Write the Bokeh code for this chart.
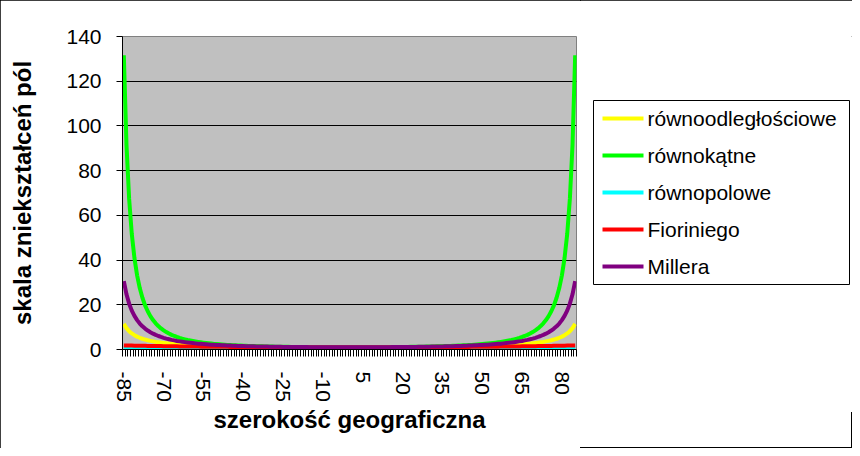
from bokeh.plotting import figure
from bokeh.models import Range1d, FixedTicker
from bokeh.layouts import row
from bokeh.core.properties import value
from bokeh.embed import file_html
from bokeh.resources import INLINE

# ---- data (latitude categories, -85 .. 85 step 1) ----
latitude = [
    -85, -84, -83, -82, -81, -80, -79, -78, -77, -76,
    -75, -74, -73, -72, -71, -70, -69, -68, -67, -66,
    -65, -64, -63, -62, -61, -60, -59, -58, -57, -56,
    -55, -54, -53, -52, -51, -50, -49, -48, -47, -46,
    -45, -44, -43, -42, -41, -40, -39, -38, -37, -36,
    -35, -34, -33, -32, -31, -30, -29, -28, -27, -26,
    -25, -24, -23, -22, -21, -20, -19, -18, -17, -16,
    -15, -14, -13, -12, -11, -10, -9, -8, -7, -6,
    -5, -4, -3, -2, -1,
    0,
    1, 2, 3, 4, 5,
    6, 7, 8, 9, 10, 11, 12, 13, 14, 15,
    16, 17, 18, 19, 20, 21, 22, 23, 24, 25,
    26, 27, 28, 29, 30, 31, 32, 33, 34, 35,
    36, 37, 38, 39, 40, 41, 42, 43, 44, 45,
    46, 47, 48, 49, 50, 51, 52, 53, 54, 55,
    56, 57, 58, 59, 60, 61, 62, 63, 64, 65,
    66, 67, 68, 69, 70, 71, 72, 73, 74, 75,
    76, 77, 78, 79, 80, 81, 82, 83, 84, 85,
]

rownoodleglosciowe = [
    11.47, 9.57, 8.21, 7.19, 6.39, 5.76, 5.24, 4.81, 4.45, 4.13,
    3.86, 3.63, 3.42, 3.24, 3.07, 2.92, 2.79, 2.67, 2.56, 2.46,
    2.37, 2.28, 2.20, 2.13, 2.06, 2.00, 1.94, 1.89, 1.84, 1.79,
    1.74, 1.70, 1.66, 1.62, 1.59, 1.56, 1.52, 1.49, 1.47, 1.44,
    1.41, 1.39, 1.37, 1.35, 1.33, 1.31, 1.29, 1.27, 1.25, 1.24,
    1.22, 1.21, 1.19, 1.18, 1.17, 1.15, 1.14, 1.13, 1.12, 1.11,
    1.10, 1.09, 1.09, 1.08, 1.07, 1.06, 1.06, 1.05, 1.05, 1.04,
    1.04, 1.03, 1.03, 1.02, 1.02, 1.02, 1.01, 1.01, 1.01, 1.01,
    1.00, 1.00, 1.00, 1.00, 1.00,
    1.00,
    1.00, 1.00, 1.00, 1.00, 1.00,
    1.01, 1.01, 1.01, 1.01, 1.02, 1.02, 1.02, 1.03, 1.03, 1.04,
    1.04, 1.05, 1.05, 1.06, 1.06, 1.07, 1.08, 1.09, 1.09, 1.10,
    1.11, 1.12, 1.13, 1.14, 1.15, 1.17, 1.18, 1.19, 1.21, 1.22,
    1.24, 1.25, 1.27, 1.29, 1.31, 1.33, 1.35, 1.37, 1.39, 1.41,
    1.44, 1.47, 1.49, 1.52, 1.56, 1.59, 1.62, 1.66, 1.70, 1.74,
    1.79, 1.84, 1.89, 1.94, 2.00, 2.06, 2.13, 2.20, 2.28, 2.37,
    2.46, 2.56, 2.67, 2.79, 2.92, 3.07, 3.24, 3.42, 3.63, 3.86,
    4.13, 4.45, 4.81, 5.24, 5.76, 6.39, 7.19, 8.21, 9.57, 11.47,
]

rownokatne = [
    131.6, 91.52, 67.33, 51.63, 40.86, 33.16, 27.47, 23.13, 19.76, 17.09,
    14.93, 13.16, 11.70, 10.47, 9.43, 8.55, 7.79, 7.13, 6.55, 6.04,
    5.60, 5.20, 4.85, 4.54, 4.25, 4.00, 3.77, 3.56, 3.37, 3.20,
    3.04, 2.89, 2.76, 2.64, 2.52, 2.42, 2.32, 2.23, 2.15, 2.07,
    2.00, 1.93, 1.87, 1.81, 1.76, 1.70, 1.66, 1.61, 1.57, 1.53,
    1.49, 1.45, 1.42, 1.39, 1.36, 1.33, 1.31, 1.28, 1.26, 1.24,
    1.22, 1.20, 1.18, 1.16, 1.15, 1.13, 1.12, 1.11, 1.09, 1.08,
    1.07, 1.06, 1.05, 1.05, 1.04, 1.03, 1.03, 1.02, 1.02, 1.01,
    1.01, 1.00, 1.00, 1.00, 1.00,
    1.00,
    1.00, 1.00, 1.00, 1.00, 1.01,
    1.01, 1.02, 1.02, 1.03, 1.03, 1.04, 1.05, 1.05, 1.06, 1.07,
    1.08, 1.09, 1.11, 1.12, 1.13, 1.15, 1.16, 1.18, 1.20, 1.22,
    1.24, 1.26, 1.28, 1.31, 1.33, 1.36, 1.39, 1.42, 1.45, 1.49,
    1.53, 1.57, 1.61, 1.66, 1.70, 1.76, 1.81, 1.87, 1.93, 2.00,
    2.07, 2.15, 2.23, 2.32, 2.42, 2.52, 2.64, 2.76, 2.89, 3.04,
    3.20, 3.37, 3.56, 3.77, 4.00, 4.25, 4.54, 4.85, 5.20, 5.60,
    6.04, 6.55, 7.13, 7.79, 8.55, 9.43, 10.47, 11.70, 13.16, 14.93,
    17.09, 19.76, 23.13, 27.47, 33.16, 40.86, 51.63, 67.33, 91.52, 131.6,
]

rownopolowe = [
    1, 1, 1, 1, 1, 1, 1, 1, 1, 1,
    1, 1, 1, 1, 1, 1, 1, 1, 1, 1,
    1, 1, 1, 1, 1, 1, 1, 1, 1, 1,
    1, 1, 1, 1, 1, 1, 1, 1, 1, 1,
    1, 1, 1, 1, 1, 1, 1, 1, 1, 1,
    1, 1, 1, 1, 1, 1, 1, 1, 1, 1,
    1, 1, 1, 1, 1, 1, 1, 1, 1, 1,
    1, 1, 1, 1, 1, 1, 1, 1, 1, 1,
    1, 1, 1, 1, 1,
    1,
    1, 1, 1, 1, 1,
    1, 1, 1, 1, 1, 1, 1, 1, 1, 1,
    1, 1, 1, 1, 1, 1, 1, 1, 1, 1,
    1, 1, 1, 1, 1, 1, 1, 1, 1, 1,
    1, 1, 1, 1, 1, 1, 1, 1, 1, 1,
    1, 1, 1, 1, 1, 1, 1, 1, 1, 1,
    1, 1, 1, 1, 1, 1, 1, 1, 1, 1,
    1, 1, 1, 1, 1, 1, 1, 1, 1, 1,
    1, 1, 1, 1, 1, 1, 1, 1, 1, 1,
]

fioriniego = [
    1.84, 1.81, 1.78, 1.76, 1.73, 1.70, 1.68, 1.66, 1.63, 1.61,
    1.59, 1.57, 1.55, 1.53, 1.51, 1.49, 1.47, 1.46, 1.44, 1.42,
    1.41, 1.39, 1.38, 1.36, 1.35, 1.33, 1.32, 1.31, 1.30, 1.28,
    1.27, 1.26, 1.25, 1.24, 1.23, 1.22, 1.21, 1.20, 1.19, 1.18,
    1.17, 1.16, 1.16, 1.15, 1.14, 1.13, 1.13, 1.12, 1.11, 1.11,
    1.10, 1.09, 1.09, 1.08, 1.08, 1.07, 1.07, 1.06, 1.06, 1.05,
    1.05, 1.05, 1.04, 1.04, 1.03, 1.03, 1.03, 1.03, 1.02, 1.02,
    1.02, 1.02, 1.01, 1.01, 1.01, 1.01, 1.01, 1.01, 1.00, 1.00,
    1.00, 1.00, 1.00, 1.00, 1.00,
    1.00,
    1.00, 1.00, 1.00, 1.00, 1.00,
    1.00, 1.00, 1.01, 1.01, 1.01, 1.01, 1.01, 1.01, 1.02, 1.02,
    1.02, 1.02, 1.03, 1.03, 1.03, 1.03, 1.04, 1.04, 1.05, 1.05,
    1.05, 1.06, 1.06, 1.07, 1.07, 1.08, 1.08, 1.09, 1.09, 1.10,
    1.11, 1.11, 1.12, 1.13, 1.13, 1.14, 1.15, 1.16, 1.16, 1.17,
    1.18, 1.19, 1.20, 1.21, 1.22, 1.23, 1.24, 1.25, 1.26, 1.27,
    1.28, 1.30, 1.31, 1.32, 1.33, 1.35, 1.36, 1.38, 1.39, 1.41,
    1.42, 1.44, 1.46, 1.47, 1.49, 1.51, 1.53, 1.55, 1.57, 1.59,
    1.61, 1.63, 1.66, 1.68, 1.70, 1.73, 1.76, 1.78, 1.81, 1.84,
]

millera = [
    30.63, 24.69, 20.50, 17.39, 15.01, 13.14, 11.62, 10.38, 9.35, 8.47,
    7.73, 7.09, 6.53, 6.04, 5.61, 5.23, 4.89, 4.59, 4.31, 4.07,
    3.84, 3.64, 3.46, 3.29, 3.13, 2.99, 2.86, 2.74, 2.62, 2.52,
    2.42, 2.33, 2.25, 2.17, 2.10, 2.03, 1.97, 1.91, 1.85, 1.80,
    1.75, 1.70, 1.66, 1.62, 1.58, 1.54, 1.50, 1.47, 1.44, 1.41,
    1.38, 1.36, 1.33, 1.31, 1.29, 1.26, 1.24, 1.23, 1.21, 1.19,
    1.17, 1.16, 1.14, 1.13, 1.12, 1.11, 1.10, 1.09, 1.08, 1.07,
    1.06, 1.05, 1.04, 1.04, 1.03, 1.03, 1.02, 1.02, 1.01, 1.01,
    1.01, 1.00, 1.00, 1.00, 1.00,
    1.00,
    1.00, 1.00, 1.00, 1.00, 1.01,
    1.01, 1.01, 1.02, 1.02, 1.03, 1.03, 1.04, 1.04, 1.05, 1.06,
    1.07, 1.08, 1.09, 1.10, 1.11, 1.12, 1.13, 1.14, 1.16, 1.17,
    1.19, 1.21, 1.23, 1.24, 1.26, 1.29, 1.31, 1.33, 1.36, 1.38,
    1.41, 1.44, 1.47, 1.50, 1.54, 1.58, 1.62, 1.66, 1.70, 1.75,
    1.80, 1.85, 1.91, 1.97, 2.03, 2.10, 2.17, 2.25, 2.33, 2.42,
    2.52, 2.62, 2.74, 2.86, 2.99, 3.13, 3.29, 3.46, 3.64, 3.84,
    4.07, 4.31, 4.59, 4.89, 5.23, 5.61, 6.04, 6.53, 7.09, 7.73,
    8.47, 9.35, 10.38, 11.62, 13.14, 15.01, 17.39, 20.50, 24.69, 30.63,
]

series_names = ["równoodległościowe", "równokątne", "równopolowe", "Fioriniego", "Millera"]
series_colors = ["#FFFF00", "#00FF00", "#00FFFF", "#FF0000", "#800080"]
series_values = [rownoodleglosciowe, rownokatne, rownopolowe, fioriniego, millera]

x_tick_values = [-85, -70, -55, -40, -25, -10, 5, 20, 35, 50, 65, 80]
x_tick_labels = ["-85", "-70", "-55", "-40", "-25", "-10", "5", "20", "35", "50", "65", "80"]
y_tick_values = [0, 20, 40, 60, 80, 100, 120, 140]

x_title = "szerokość geograficzna"
y_title = "skala zniekształceń pól"

FONT = "Liberation Sans"

# ---------------- main chart ----------------
p = figure(
    frame_width=454, frame_height=313,
    output_backend="svg", toolbar_location=None,
    x_range=Range1d(latitude[0] - 0.5, latitude[-1] + 0.5),
    y_range=Range1d(y_tick_values[0], y_tick_values[-1]),
    min_border_left=122, min_border_right=4,
    min_border_top=36, min_border_bottom=99,
)
p.background_fill_color = "#C0C0C0"
p.border_fill_color = "white"
p.outline_line_color = "#808080"
p.outline_line_width = 1

p.xgrid.visible = False
p.ygrid.ticker = FixedTicker(ticks=[t for t in y_tick_values if y_tick_values[0] < t < y_tick_values[-1]])
p.ygrid.grid_line_color = "black"
p.ygrid.grid_line_width = 1

boundaries = [c - 0.5 for c in latitude] + [latitude[-1] + 0.5]
xa = p.xaxis[0]
xa.ticker = FixedTicker(ticks=x_tick_values, minor_ticks=boundaries)
xa.major_label_overrides = dict(zip(x_tick_values, x_tick_labels))
xa.major_label_orientation = "vertical"
xa.major_tick_out = 0
xa.major_tick_in = 0
xa.minor_tick_out = 7
xa.minor_tick_in = 0
xa.minor_tick_line_color = "black"
xa.axis_line_color = "black"
xa.major_label_standoff = 15
xa.major_label_text_font = FONT
xa.major_label_text_font_size = "21px"
xa.major_label_text_color = "black"
xa.axis_label = x_title
xa.axis_label_text_font = FONT
xa.axis_label_text_font_style = "bold"
xa.axis_label_text_font_size = "24px"
xa.axis_label_text_color = "black"
xa.axis_label_standoff = 1

ya = p.yaxis[0]
ya.ticker = FixedTicker(ticks=y_tick_values)
ya.major_tick_out = 6
ya.major_tick_in = 0
ya.major_tick_line_color = "black"
ya.axis_line_color = "black"
ya.major_label_standoff = 15
ya.major_label_text_font = FONT
ya.major_label_text_font_size = "21px"
ya.major_label_text_color = "black"
ya.axis_label = y_title
ya.axis_label_text_font = FONT
ya.axis_label_text_font_style = "bold"
ya.axis_label_text_font_size = "24px"
ya.axis_label_text_color = "black"
ya.axis_label_standoff = 27

for color, vals in zip(series_colors, series_values):
    p.line(latitude, vals, line_color=color, line_width=4, line_join="round")

# ---------------- legend panel (separate canvas to the right) ----------------
# the row aligns this frame's top with the main frame's top (36 px down)
LW, LH = 272, 412
lg = figure(
    frame_width=LW, frame_height=LH, output_backend="svg", toolbar_location=None,
    x_axis_location=None, y_axis_location=None, title=None,
    x_range=Range1d(0, LW), y_range=Range1d(LH, 0),
    min_border=0, min_border_left=0, min_border_right=0,
    min_border_top=0, min_border_bottom=0,
)
lg.grid.visible = False
lg.outline_line_color = None
lg.background_fill_color = "white"
lg.border_fill_color = "white"

box_left, box_right, box_top = 13, 269, 64
row_step, first_row = 37, 18
n = len(series_names)
box_bottom = box_top + 2 * first_row + (n - 1) * row_step
ys = [box_top + first_row + i * row_step for i in range(n)]

lg.quad(left=[box_left], right=[box_right], top=[box_top], bottom=[box_bottom],
        fill_color="white", line_color="black", line_width=1)
lg.segment(x0=[box_left + 9] * n, x1=[box_left + 50] * n, y0=ys, y1=ys,
           line_color=series_colors, line_width=4)
lg.text(x=[box_left + 54] * n, y=ys, text=series_names,
        text_font=value(FONT), text_font_size="21px", text_color="black",
        text_baseline="middle", text_align="left")

layout = row(p, lg)
layout.styles = {"outline": "1px solid black", "outline-offset": "-1px"}

open("out.html", "w").write(file_html(layout, INLINE))
